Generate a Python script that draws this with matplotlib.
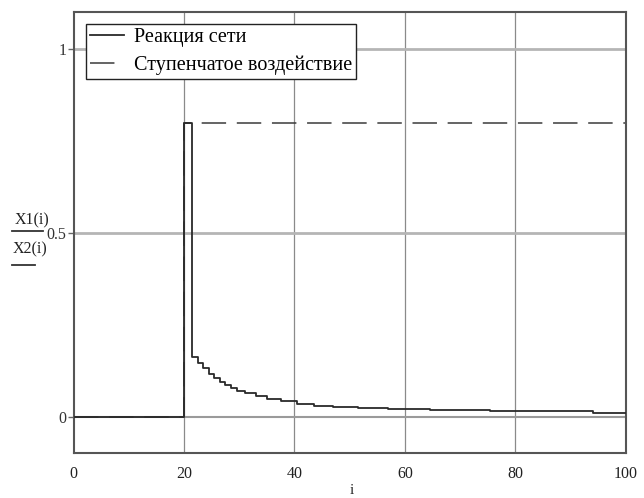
import numpy as np
import matplotlib
matplotlib.use("Agg")
import matplotlib.pyplot as plt
from matplotlib.lines import Line2D

# network response X1(i) (step breakpoints)
i_resp = [0, 20, 21.5, 22.5, 23.5, 24.5, 25.5, 26.5, 27.5, 28.5, 29.5, 31, 33, 35,
          37.5, 40.5, 43.5, 47, 51.5, 57, 64.5, 75.5, 94, 100]
x1_resp = [0, 0.8, 0.161, 0.147, 0.132, 0.117, 0.104, 0.094, 0.085, 0.077, 0.07, 0.063,
           0.056, 0.049, 0.041, 0.034, 0.03, 0.027, 0.023, 0.02, 0.017, 0.014, 0.01, 0.01]

# step input X2(i)
i_step = [0, 20, 100]
x2_step = [0, 0.8, 0.8]

labels = ["Реакция сети", "Ступенчатое воздействие"]
xticks = [0, 20, 40, 60, 80, 100]
yticks = [0, 0.5, 1]
yticklabels = ["0", "0.5", "1"]

serif = "Liberation Serif"

fig = plt.figure(figsize=(6.44, 4.98), dpi=100)
ax = fig.add_axes([0.1144, 0.0898, 0.8571, 0.8855])

for x in [20, 40, 60, 80]:
    ax.axvline(x, color="#8a8a8a", lw=0.9, zorder=1)
for y in [0.5, 1]:
    ax.axhline(y, color="#b5b5b5", lw=2.0, zorder=1)
ax.axhline(0, color="#9a9a9a", lw=1.5, zorder=1)

ax.plot(i_resp, x1_resp, drawstyle="steps-post", color="#2a2a2a", lw=1.3,
        label=labels[0], zorder=3)
ax.plot(i_step, x2_step, drawstyle="steps-post", color="#3a3a3a", lw=1.1,
        dashes=(16, 7), label=labels[1], zorder=2)

ax.set_xlim(0, 100)
ax.set_ylim(-0.1, 1.1)
ax.set_xticks(xticks)
ax.set_xticklabels([str(t) for t in xticks], fontfamily=serif, fontsize=11.5, color="#222222")
ax.set_yticks(yticks)
ax.set_yticklabels(yticklabels, fontfamily=serif, fontsize=11.5, color="#333333")
ax.tick_params(axis="x", length=0, pad=9)
ax.tick_params(axis="y", length=4, width=1, color="#666666", pad=1)

for s in ax.spines.values():
    s.set_color("#555555")
    s.set_linewidth(1.5)

leg = ax.legend(loc="upper left", bbox_to_anchor=(0.022, 0.974), borderaxespad=0,
                prop={"family": serif, "size": 14.5}, handlelength=1.7,
                handletextpad=0.5, labelspacing=0.45, borderpad=0.2,
                fancybox=False, framealpha=1, edgecolor="#222222")
leg.get_frame().set_linewidth(1.0)
leg.set_zorder(5)

# stacked y-axis expressions as in Mathcad
fig.text(32 / 644, 1 - 220 / 498, "X1(i)", family=serif, fontsize=11.5, ha="center",
         va="center", color="#222222")
fig.text(30 / 644, 1 - 249 / 498, "X2(i)", family=serif, fontsize=11.5, ha="center",
         va="center", color="#222222")
fig.add_artist(Line2D([12 / 644, 43 / 644], [1 - 231 / 498, 1 - 231 / 498],
                      color="#333333", lw=1.3))
fig.add_artist(Line2D([12 / 644, 35 / 644], [1 - 265 / 498, 1 - 265 / 498],
                      color="#333333", lw=1.3))

fig.text(352 / 644, 1 - 490 / 498, "i", family=serif, fontsize=11, ha="center",
         va="center", color="#222222")

fig.savefig("out.png", dpi=100)
